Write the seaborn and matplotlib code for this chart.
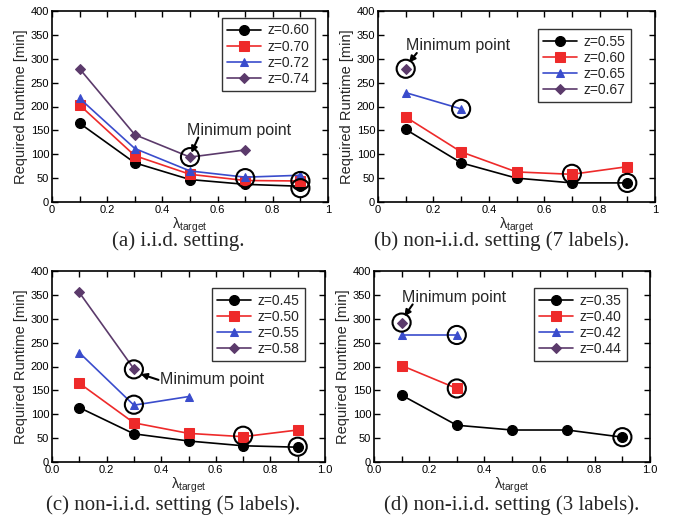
import numpy as np
import pandas as pd
import matplotlib
matplotlib.use("Agg")
import matplotlib.pyplot as plt
import seaborn as sns
from matplotlib.ticker import MultipleLocator

sns.set_theme(style="ticks")
plt.rcParams['font.family'] = ['Liberation Sans', 'DejaVu Sans']
plt.rcParams['mathtext.default'] = 'regular'

lam = [0.1, 0.3, 0.5, 0.7, 0.9]

# Panel (a) i.i.d.
a_z = ["z=0.60", "z=0.70", "z=0.72", "z=0.74"]
a_vals = [[165, 82, 47, 37, 33],
          [203, 97, 58, 45, 44],
          [217, 112, 65, 52, 56],
          [279, 141, 94, 109]]
a_min = [(0.5, 94), (0.7, 50), (0.9, 44), (0.9, 29)]

# Panel (b) non-i.i.d. 7 labels
b_z = ["z=0.55", "z=0.60", "z=0.65", "z=0.67"]
b_vals = [[152, 82, 50, 40, 40],
          [178, 105, 63, 58, 74],
          [229, 195],
          [279]]
b_min = [(0.1, 279), (0.3, 195), (0.7, 59), (0.9, 40)]

# Panel (c) non-i.i.d. 5 labels
c_z = ["z=0.45", "z=0.50", "z=0.55", "z=0.58"]
c_vals = [[114, 59, 44, 34, 31],
          [165, 82, 60, 53, 67],
          [229, 119, 137],
          [355, 195]]
c_min = [(0.3, 194), (0.3, 120), (0.7, 55), (0.9, 32)]

# Panel (d) non-i.i.d. 3 labels
d_z = ["z=0.35", "z=0.40", "z=0.42", "z=0.44"]
d_vals = [[140, 77, 67, 67, 52],
          [202, 154],
          [266, 266],
          [292]]
d_min = [(0.1, 292), (0.3, 266), (0.3, 154), (0.9, 52)]

xtick_vals = [0, 0.2, 0.4, 0.6, 0.8, 1.0]
xtick_top = ["0", "0.2", "0.4", "0.6", "0.8", "1"]
xtick_bottom = ["0.0", "0.2", "0.4", "0.6", "0.8", "1.0"]
captions = ["(a) i.i.d. setting.",
            "(b) non-i.i.d. setting (7 labels).",
            "(c) non-i.i.d. setting (5 labels).",
            "(d) non-i.i.d. setting (3 labels)."]

colors = ["#000000", "#ee2a2a", "#3a4ccc", "#5b3a6b"]
markers = ["o", "s", "^", "D"]
msizes = [7.2, 7.8, 6.2, 5.6]

W, H = 673, 522
fig = plt.figure(figsize=(W / 100, H / 100), dpi=100)

def rect(l, r, t, b):
    return [l / W, (H - b) / H, (r - l) / W, (b - t) / H]

axes_rects = [rect(52, 328, 11, 202), rect(378, 655, 11, 202),
              rect(52, 325, 271, 462), rect(374, 650, 271, 462)]
panels = [(a_z, a_vals, a_min, xtick_top),
          (b_z, b_vals, b_min, xtick_top),
          (c_z, c_vals, c_min, xtick_bottom),
          (d_z, d_vals, d_min, xtick_bottom)]
legend_anchor = [(0.953, 0.964), (0.913, 0.906), (0.927, 0.911), (0.917, 0.911)]
annots = [dict(text=(0.49, 150), tip=(0.505, 103), start=(0.53, 135)),
          dict(text=(0.10, 328), tip=(0.112, 292), start=(0.14, 312)),
          dict(text=(0.385, 172), tip=(0.325, 184), start=(0.385, 172)),
          dict(text=(0.10, 345), tip=(0.11, 305), start=(0.14, 330))]
caption_pos = [(178, 241), (502, 241), (173, 505), (512, 505)]

for i, (zs, vals, mins, xlabels) in enumerate(panels):
    ax = fig.add_axes(axes_rects[i])
    for j, (lab, v) in enumerate(zip(zs, vals)):
        df = pd.DataFrame({"lam": lam[:len(v)], "rt": v})
        sns.lineplot(data=df, x="lam", y="rt", ax=ax, color=colors[j],
                     marker=markers[j], markersize=msizes[j],
                     markeredgecolor=colors[j], linewidth=1.2, label=lab,
                     zorder=3)
    mdf = pd.DataFrame(mins, columns=["lam", "rt"])
    ax.scatter(mdf["lam"], mdf["rt"], s=170, facecolors="none",
               edgecolors="black", linewidths=1.5, zorder=4)
    an = annots[i]
    if i == 2:
        ax.annotate("", xy=an["tip"], xytext=(0.39, 172),
                    arrowprops=dict(arrowstyle="-|>", color="black", lw=1.5,
                                    mutation_scale=9, shrinkA=0, shrinkB=0))
        ax.text(0.395, 172, "Minimum point", fontsize=11.5, va="center",
                ha="left")
    else:
        ax.annotate("", xy=an["tip"], xytext=an["start"],
                    arrowprops=dict(arrowstyle="-|>", color="black", lw=1.5,
                                    mutation_scale=9, shrinkA=0, shrinkB=0))
        ax.text(an["text"][0], an["text"][1], "Minimum point", fontsize=11.5,
                va="center", ha="left")
    ax.set_xlim(0, 1)
    ax.set_ylim(0, 400)
    ax.set_xticks(xtick_vals)
    ax.set_xticklabels(xlabels)
    ax.xaxis.set_minor_locator(MultipleLocator(0.1))
    ax.set_yticks(np.arange(0, 401, 50))
    ax.tick_params(which="both", direction="in", top=True, right=True,
                   length=4, width=1, colors="black", labelsize=8,
                   pad=2)
    for s in ax.spines.values():
        s.set_color("black")
        s.set_linewidth(1.2)
    ax.set_xlabel(r"$\lambda_{target}$", fontsize=10.5, labelpad=1)
    ax.set_ylabel("Required Runtime [min]", fontsize=10.5, labelpad=2)
    leg = ax.legend(loc="upper right", bbox_to_anchor=legend_anchor[i],
                    fontsize=10, handlelength=2.4, labelspacing=0.15,
                    borderpad=0.4, handletextpad=0.5, frameon=True,
                    fancybox=False, borderaxespad=0)
    leg.get_frame().set_edgecolor("black")
    leg.get_frame().set_linewidth(1.0)
    fig.text(caption_pos[i][0] / W, 1 - caption_pos[i][1] / H, captions[i],
             ha="center", va="center", fontsize=15,
             family="Liberation Serif")

fig.savefig("out.png", dpi=100)
